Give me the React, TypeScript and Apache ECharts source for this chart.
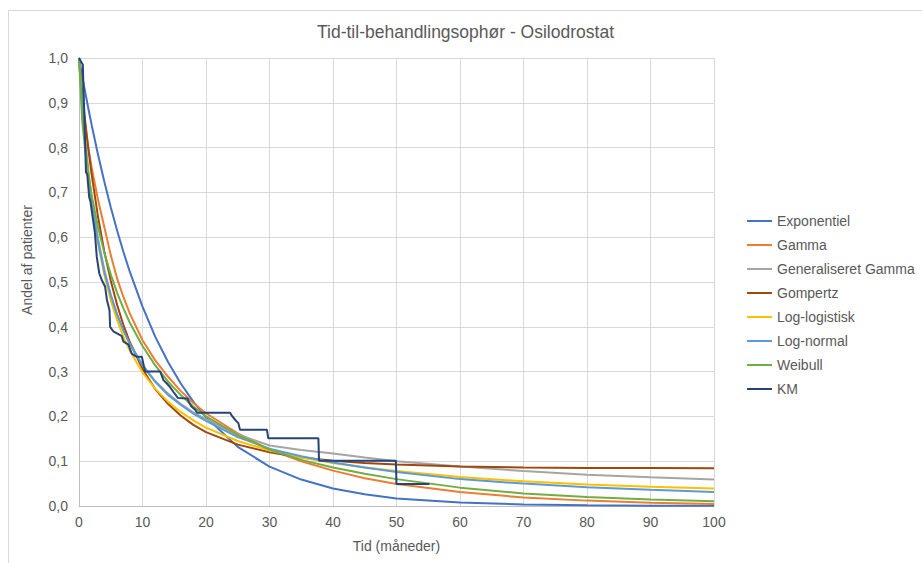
import React, { useEffect, useRef } from "react";
import * as echarts from "echarts";

// Time grid for the fitted parametric curves (months)
const T = [0, 0.5, 1, 1.5, 2, 3, 4, 5, 6, 7, 8, 10, 12, 14, 16, 18, 20, 25, 30, 35, 40, 45, 50, 60, 70, 80, 90, 100];

const EXPONENTIEL = [1, 0.96, 0.922, 0.885, 0.85, 0.784, 0.723, 0.667, 0.615, 0.567, 0.523, 0.445, 0.378, 0.322, 0.274, 0.233, 0.198, 0.132, 0.088, 0.059, 0.039, 0.026, 0.017, 0.0077, 0.0035, 0.0015, 0.0007, 0.0003];
const GAMMA = [1, 0.905, 0.845, 0.797, 0.755, 0.683, 0.622, 0.56, 0.508, 0.466, 0.43, 0.37, 0.325, 0.289, 0.257, 0.23, 0.207, 0.162, 0.126, 0.1, 0.079, 0.062, 0.049, 0.031, 0.019, 0.012, 0.0075, 0.0047];
const GEN_GAMMA = [1, 0.9, 0.815, 0.745, 0.688, 0.597, 0.527, 0.472, 0.428, 0.392, 0.362, 0.315, 0.279, 0.251, 0.228, 0.209, 0.194, 0.16, 0.135, 0.125, 0.117, 0.108, 0.1, 0.088, 0.078, 0.07, 0.064, 0.059];
const GOMPERTZ = [1, 0.924, 0.856, 0.794, 0.739, 0.645, 0.567, 0.503, 0.449, 0.404, 0.366, 0.306, 0.261, 0.228, 0.202, 0.181, 0.165, 0.137, 0.12, 0.108, 0.101, 0.096, 0.0925, 0.088, 0.086, 0.085, 0.0846, 0.0843];
const LOG_LOGISTISK = [1, 0.895, 0.81, 0.739, 0.68, 0.586, 0.515, 0.459, 0.415, 0.378, 0.347, 0.298, 0.262, 0.233, 0.21, 0.191, 0.175, 0.145, 0.124, 0.108, 0.096, 0.086, 0.078, 0.065, 0.055, 0.048, 0.043, 0.039];
const LOG_NORMAL = [1, 0.899, 0.808, 0.736, 0.678, 0.589, 0.522, 0.47, 0.427, 0.392, 0.362, 0.314, 0.277, 0.248, 0.226, 0.206, 0.19, 0.154, 0.128, 0.111, 0.097, 0.086, 0.076, 0.06, 0.05, 0.042, 0.036, 0.031];
const WEIBULL = [1, 0.861, 0.791, 0.738, 0.693, 0.622, 0.565, 0.517, 0.476, 0.441, 0.409, 0.357, 0.314, 0.278, 0.248, 0.222, 0.2, 0.158, 0.126, 0.103, 0.086, 0.072, 0.06, 0.041, 0.028, 0.02, 0.0145, 0.0108];

// Kaplan-Meier curve (points as drawn)
const KM_T = [0, 0.6, 1.1, 1.3, 1.6, 1.8, 2.5, 2.8, 3.2, 3.6, 4.1, 4.4, 4.8, 4.9, 5.4, 6.7, 7.0, 7.8, 8.3, 9.1, 9.9, 10.4, 12.8, 13.0, 13.3, 13.8, 14.3, 14.85, 15.6, 17.1, 17.3, 17.7, 18.3, 18.6, 23.8, 24.0, 24.6, 25.1, 25.35, 29.6, 29.8, 37.7, 37.8, 49.9, 50.0, 55.2];
const KM_S = [1, 0.985, 0.745, 0.74, 0.69, 0.68, 0.61, 0.556, 0.519, 0.504, 0.49, 0.46, 0.4375, 0.4, 0.39, 0.38, 0.367, 0.36, 0.34, 0.333, 0.333, 0.3, 0.3, 0.292, 0.281, 0.274, 0.266, 0.255, 0.241, 0.24, 0.232, 0.222, 0.215, 0.208, 0.208, 0.203, 0.192, 0.185, 0.17, 0.17, 0.151, 0.151, 0.101, 0.101, 0.049, 0.049];

const SERIES_NAMES = ["Exponentiel", "Gamma", "Generaliseret Gamma", "Gompertz", "Log-logistisk", "Log-normal", "Weibull", "KM"];
const SERIES_COLORS = ["#4472C4", "#ED7D31", "#A5A5A5", "#9E480E", "#FFC000", "#5B9BD5", "#70AD47", "#264478"];
const CURVES = [EXPONENTIEL, GAMMA, GEN_GAMMA, GOMPERTZ, LOG_LOGISTISK, LOG_NORMAL, WEIBULL];

const TITLE = "Tid-til-behandlingsophør - Osilodrostat";
const X_NAME = "Tid (måneder)";
const Y_NAME = "Andel af patienter";

const FONT = "Liberation Sans, Arial, sans-serif";
const TEXT_COLOR = "#595959";

export default function App() {
  const ref = useRef<HTMLDivElement>(null);

  useEffect(() => {
    document.body.style.overflow = "hidden";
    document.documentElement.style.overflow = "hidden";
    if (!ref.current) return;
    const chart = echarts.init(ref.current, null, { renderer: "svg" });

    const series: any[] = CURVES.map((arr, i) => ({
      name: SERIES_NAMES[i],
      type: "line",
      symbol: "none",
      data: T.map((t, j) => [t, arr[j]]),
      lineStyle: { width: 2, color: SERIES_COLORS[i] },
      itemStyle: { color: SERIES_COLORS[i] },
    }));
    series.push({
      name: "KM",
      type: "line",
      symbol: "none",
      data: KM_T.map((t, j) => [t, KM_S[j]]),
      lineStyle: { width: 2, color: SERIES_COLORS[7] },
      itemStyle: { color: SERIES_COLORS[7] },
    });

    chart.setOption({
      animation: false,
      textStyle: { fontFamily: FONT },
      title: {
        text: TITLE,
        left: "center",
        top: 7,
        textStyle: { color: TEXT_COLOR, fontSize: 17.5, fontWeight: "normal", fontFamily: FONT },
      },
      grid: { left: 70, right: 208, top: 47, bottom: 57, containLabel: false },
      legend: {
        orient: "vertical",
        left: 737,
        top: 203,
        padding: 0,
        itemWidth: 25,
        itemHeight: 14,
        itemGap: 10,
        data: SERIES_NAMES,
        itemStyle: { opacity: 0 },
        textStyle: { color: TEXT_COLOR, fontSize: 14, fontFamily: FONT },
      },
      xAxis: {
        type: "value",
        min: 0,
        max: 100,
        interval: 10,
        axisLine: { show: true, lineStyle: { color: "#bfbfbf", width: 1 } },
        axisTick: { show: false },
        splitLine: { show: true, lineStyle: { color: "#d9d9d9", width: 1 } },
        axisLabel: { color: TEXT_COLOR, fontSize: 14, margin: 9, fontFamily: FONT },
        name: X_NAME,
        nameLocation: "middle",
        nameGap: 33,
        nameTextStyle: { color: TEXT_COLOR, fontSize: 14, fontFamily: FONT },
      },
      yAxis: {
        type: "value",
        min: 0,
        max: 1,
        interval: 0.1,
        axisLine: { show: true, lineStyle: { color: "#bfbfbf", width: 1 } },
        axisTick: { show: false },
        splitLine: { show: true, lineStyle: { color: "#d9d9d9", width: 1 } },
        axisLabel: {
          color: TEXT_COLOR,
          fontSize: 14,
          margin: 11,
          fontFamily: FONT,
          formatter: (v: number) => v.toFixed(1).replace(".", ","),
        },
      },
      graphic: [
        {
          type: "text",
          x: 18,
          y: 249,
          rotation: Math.PI / 2,
          style: {
            text: Y_NAME,
            textAlign: "center",
            textVerticalAlign: "middle",
            fontSize: 14,
            fill: TEXT_COLOR,
            fontFamily: FONT,
          },
        },
      ],
      series,
    });

    return () => chart.dispose();
  }, []);

  return (
    <div
      style={{
        position: "absolute",
        left: 8,
        top: 10,
        width: 913,
        height: 552,
        borderTop: "1px solid #d9d9d9",
        borderLeft: "1px solid #d9d9d9",
      }}
    >
      <div ref={ref} style={{ width: 913, height: 552 }} />
    </div>
  );
}
